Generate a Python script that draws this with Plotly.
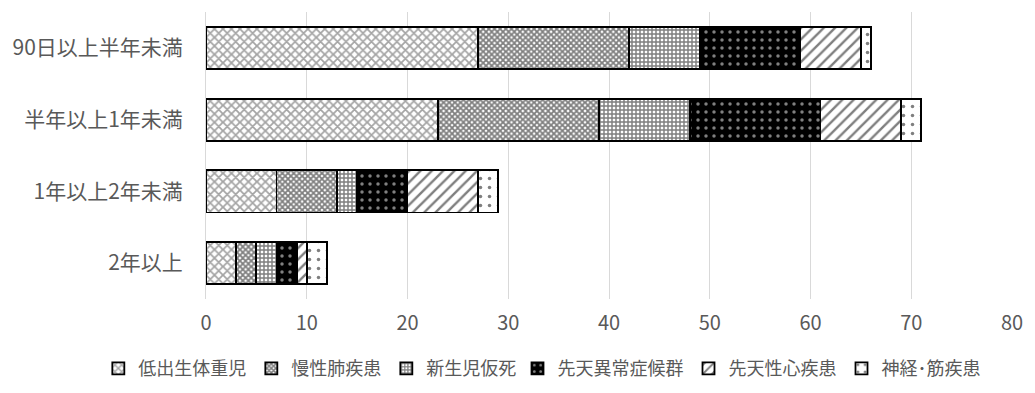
import plotly.graph_objects as go

# Age-at-discharge groups (top to bottom) and underlying diseases
categories = ["90日以上半年未満", "半年以上1年未満", "1年以上2年未満", "2年以上"]
series_names = ["低出生体重児", "慢性肺疾患", "新生児仮死", "先天異常症候群", "先天性心疾患", "神経･筋疾患"]

low_birth_weight = [27, 23, 7, 3]
chronic_lung = [15, 16, 6, 2]
neonatal_asphyxia = [7, 9, 2, 2]
congenital_anomaly = [10, 13, 5, 2]
congenital_heart = [6, 8, 7, 1]
neuromuscular = [1, 2, 2, 2]

x_ticks = [0, 10, 20, 30, 40, 50, 60, 70, 80]

series_values = [low_birth_weight, chronic_lung, neonatal_asphyxia,
                 congenital_anomaly, congenital_heart, neuromuscular]

# Monochrome fill patterns, one per disease group
patterns = [
    dict(shape="x", fgcolor="#4a4a4a", bgcolor="white", size=6, solidity=0.5),
    dict(shape="x", fgcolor="black", bgcolor="white", size=4, solidity=0.7),
    dict(shape="+", fgcolor="black", bgcolor="white", size=4, solidity=0.6),
    dict(shape=".", fgcolor="white", bgcolor="black", size=8, solidity=0.15),
    dict(shape="/", fgcolor="black", bgcolor="white", size=8, solidity=0.3),
    dict(shape=".", fgcolor="black", bgcolor="white", size=9, solidity=0.12),
]

# The legend row is split over two legend boxes placed side by side
legend_ids = ["legend", "legend", "legend", "legend2", "legend2", "legend2"]

FONT = "Noto Sans CJK JP"
TEXT_GREY = "#595959"

fig = go.Figure()
for name, vals, pat, lg in zip(series_names, series_values, patterns, legend_ids):
    fig.add_trace(go.Bar(
        y=categories, x=vals, name=name, orientation="h", legend=lg,
        marker=dict(color="white", pattern=pat,
                    line=dict(color="black", width=1.8)),
    ))

legend_style = dict(orientation="h", xref="container", xanchor="left",
                    yref="container", y=0.015, yanchor="bottom",
                    font=dict(size=18, color=TEXT_GREY),
                    traceorder="normal", itemwidth=30,
                    bgcolor="rgba(0,0,0,0)")

fig.update_layout(
    barmode="stack",
    bargap=0.414,
    width=1035, height=393,
    margin=dict(l=205, r=20, t=12, b=94),
    paper_bgcolor="white",
    plot_bgcolor="white",
    font=dict(family=FONT, size=20, color=TEXT_GREY),
    xaxis=dict(range=[0, 80], tickvals=x_ticks, showgrid=True,
               gridcolor="#d9d9d9", gridwidth=1, zeroline=False,
               ticks="", ticklabelstandoff=10,
               tickfont=dict(size=20, color=TEXT_GREY)),
    yaxis=dict(categoryorder="array", categoryarray=categories,
               autorange="reversed", showline=True, linecolor="#d9d9d9",
               linewidth=1, ticks="", ticklabelstandoff=18,
               tickfont=dict(size=21, color=TEXT_GREY)),
    legend=dict(legend_style, x=0.095),
    legend2=dict(legend_style, x=0.5),
    showlegend=True,
)

fig.write_html("out.html")
